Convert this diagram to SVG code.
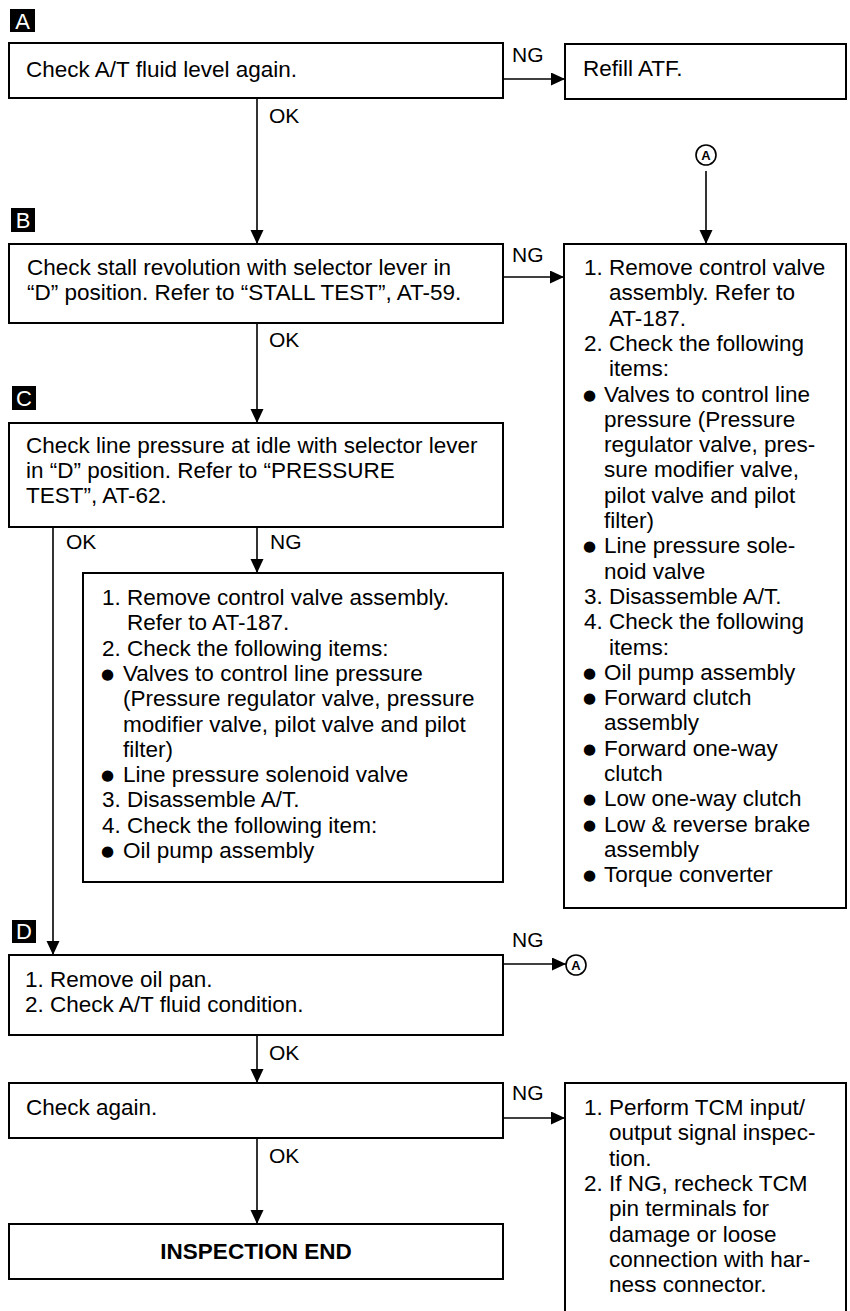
<svg xmlns="http://www.w3.org/2000/svg" width="850" height="1311" viewBox="0 0 850 1311">
<style>
.bg{fill:#fff}
.box{fill:#fff;stroke:#000;stroke-width:2}
.t{font-family:"Liberation Sans",Arial,sans-serif;font-size:22.5px;fill:#000}
.lbl{font-family:"Liberation Sans",Arial,sans-serif;font-size:21px;fill:#000}
.b{font-weight:bold}
.blt{font-family:"DejaVu Sans",sans-serif;font-size:15px;baseline-shift:2px}
.tag{fill:#000}
.tagt{font-family:"Liberation Sans",Arial,sans-serif;font-size:22px;fill:#fff;text-anchor:middle}
.conn{fill:none;stroke:#000;stroke-width:1.6}
.circ{fill:#fff;stroke:#000;stroke-width:1.6}
.ct{font-family:"Liberation Sans",Arial,sans-serif;font-size:13px;font-weight:bold;fill:#000;text-anchor:middle}
</style>
<defs>
<marker id="arr" markerUnits="userSpaceOnUse" markerWidth="15" markerHeight="14" refX="14" refY="6.5" orient="auto">
<path d="M0,0 L14,6.5 L0,13 z" fill="#000"/>
</marker>
</defs>
<rect class="bg" x="0" y="0" width="850" height="1311"/>

<g id="tag-A"><rect class="tag" x="10" y="9" width="25" height="23"/><text class="tagt" x="22.5" y="29">A</text></g>
<g id="tag-B"><rect class="tag" x="11" y="208" width="24" height="24"/><text class="tagt" x="23" y="228">B</text></g>
<g id="tag-C"><rect class="tag" x="12" y="386" width="24" height="24"/><text class="tagt" x="24" y="406">C</text></g>
<g id="tag-D"><rect class="tag" x="12" y="920" width="24" height="23"/><text class="tagt" x="24" y="939">D</text></g>

<g id="connectors">
<path class="conn" d="M503,79 H565" marker-end="url(#arr)"/>
<path class="conn" d="M257,98 V244" marker-end="url(#arr)"/>
<path class="conn" d="M706,171 V244" marker-end="url(#arr)"/>
<path class="conn" d="M503,277 H564" marker-end="url(#arr)"/>
<path class="conn" d="M257,323 V423" marker-end="url(#arr)"/>
<path class="conn" d="M257,527 V573" marker-end="url(#arr)"/>
<path class="conn" d="M53,527 V955" marker-end="url(#arr)"/>
<path class="conn" d="M503,964 H566" marker-end="url(#arr)"/>
<path class="conn" d="M257,1035 V1083" marker-end="url(#arr)"/>
<path class="conn" d="M503,1118 H565" marker-end="url(#arr)"/>
<path class="conn" d="M257,1138 V1224" marker-end="url(#arr)"/>
<text class="lbl" x="512" y="62">NG</text>
<text class="lbl" x="269" y="123">OK</text>
<text class="lbl" x="512" y="262">NG</text>
<text class="lbl" x="269" y="347">OK</text>
<text class="lbl" x="66" y="549">OK</text>
<text class="lbl" x="270" y="549">NG</text>
<text class="lbl" x="512" y="947">NG</text>
<text class="lbl" x="269" y="1060">OK</text>
<text class="lbl" x="512" y="1100">NG</text>
<text class="lbl" x="269" y="1163">OK</text>
</g>

<g id="conn-A-top"><circle class="circ" cx="706" cy="155" r="10"/><text class="ct" x="706" y="160">A</text></g>
<g id="conn-A-bottom"><circle class="circ" cx="576" cy="965" r="10"/><text class="ct" x="576" y="970">A</text></g>

<g id="n-check-level">
<rect class="box" x="9" y="43" width="494" height="55"/>
<text class="t" x="26" y="77">Check A/T fluid level again.</text>
</g>
<g id="n-refill">
<rect class="box" x="565" y="44" width="281" height="55"/>
<text class="t" x="583" y="76">Refill ATF.</text>
</g>

<g id="n-stall">
<rect class="box" x="9" y="244" width="494" height="79"/>
<text class="t" x="27" y="275">Check stall revolution with selector lever in</text>
<text class="t" x="27" y="300">“D” position. Refer to “STALL TEST”, AT-59.</text>
</g>

<g id="n-right">
<rect class="box" x="564" y="244" width="282" height="664"/>
<text class="t" x="584" y="275">1. Remove control valve</text>
<text class="t" x="609" y="300.3">assembly. Refer to</text>
<text class="t" x="609" y="325.6">AT-187.</text>
<text class="t" x="584" y="350.9">2. Check the following</text>
<text class="t" x="609" y="376.2">items:</text>
<text class="t" x="583" y="401.5"><tspan class="blt">●</tspan><tspan x="604">Valves to control line</tspan></text>
<text class="t" x="604" y="426.8">pressure (Pressure</text>
<text class="t" x="604" y="452.1">regulator valve, pres-</text>
<text class="t" x="604" y="477.4">sure modifier valve,</text>
<text class="t" x="604" y="502.7">pilot valve and pilot</text>
<text class="t" x="604" y="528">filter)</text>
<text class="t" x="583" y="553.3"><tspan class="blt">●</tspan><tspan x="604">Line pressure sole-</tspan></text>
<text class="t" x="604" y="578.6">noid valve</text>
<text class="t" x="584" y="603.9">3. Disassemble A/T.</text>
<text class="t" x="584" y="629.2">4. Check the following</text>
<text class="t" x="609" y="654.5">items:</text>
<text class="t" x="583" y="679.8"><tspan class="blt">●</tspan><tspan x="604">Oil pump assembly</tspan></text>
<text class="t" x="583" y="705.1"><tspan class="blt">●</tspan><tspan x="604">Forward clutch</tspan></text>
<text class="t" x="604" y="730.4">assembly</text>
<text class="t" x="583" y="755.7"><tspan class="blt">●</tspan><tspan x="604">Forward one-way</tspan></text>
<text class="t" x="604" y="781">clutch</text>
<text class="t" x="583" y="806.3"><tspan class="blt">●</tspan><tspan x="604">Low one-way clutch</tspan></text>
<text class="t" x="583" y="831.6"><tspan class="blt">●</tspan><tspan x="604">Low &amp; reverse brake</tspan></text>
<text class="t" x="604" y="856.9">assembly</text>
<text class="t" x="583" y="882.2"><tspan class="blt">●</tspan><tspan x="604">Torque converter</tspan></text>
</g>

<g id="n-pressure">
<rect class="box" x="9" y="423" width="494" height="104"/>
<text class="t" x="26" y="453">Check line pressure at idle with selector lever</text>
<text class="t" x="26" y="478">in “D” position. Refer to “PRESSURE</text>
<text class="t" x="26" y="503">TEST”, AT-62.</text>
</g>

<g id="n-pressure-ng">
<rect class="box" x="83" y="573" width="420" height="309"/>
<text class="t" x="102" y="605">1. Remove control valve assembly.</text>
<text class="t" x="127" y="630.3">Refer to AT-187.</text>
<text class="t" x="102" y="655.6">2. Check the following items:</text>
<text class="t" x="101" y="680.9"><tspan class="blt">●</tspan><tspan x="123">Valves to control line pressure</tspan></text>
<text class="t" x="123" y="706.2">(Pressure regulator valve, pressure</text>
<text class="t" x="123" y="731.5">modifier valve, pilot valve and pilot</text>
<text class="t" x="123" y="756.8">filter)</text>
<text class="t" x="101" y="782.1"><tspan class="blt">●</tspan><tspan x="123">Line pressure solenoid valve</tspan></text>
<text class="t" x="102" y="807.4">3. Disassemble A/T.</text>
<text class="t" x="102" y="832.7">4. Check the following item:</text>
<text class="t" x="101" y="858"><tspan class="blt">●</tspan><tspan x="123">Oil pump assembly</tspan></text>
</g>

<g id="n-oil-pan">
<rect class="box" x="9" y="955" width="494" height="80"/>
<text class="t" x="25" y="987">1. Remove oil pan.</text>
<text class="t" x="25" y="1012">2. Check A/T fluid condition.</text>
</g>

<g id="n-check-again">
<rect class="box" x="9" y="1083" width="494" height="55"/>
<text class="t" x="26" y="1115">Check again.</text>
</g>

<g id="n-tcm">
<rect class="box" x="565" y="1083" width="281" height="240"/>
<text class="t" x="584" y="1115">1. Perform TCM input/</text>
<text class="t" x="609" y="1140.3">output signal inspec-</text>
<text class="t" x="609" y="1165.6">tion.</text>
<text class="t" x="584" y="1190.9">2. If NG, recheck TCM</text>
<text class="t" x="609" y="1216.2">pin terminals for</text>
<text class="t" x="609" y="1241.5">damage or loose</text>
<text class="t" x="609" y="1266.8">connection with har-</text>
<text class="t" x="609" y="1292.1">ness connector.</text>
</g>

<g id="n-end">
<rect class="box" x="9" y="1224" width="494" height="55"/>
<text class="t b" x="256" y="1259" text-anchor="middle">INSPECTION END</text>
</g>
</svg>
